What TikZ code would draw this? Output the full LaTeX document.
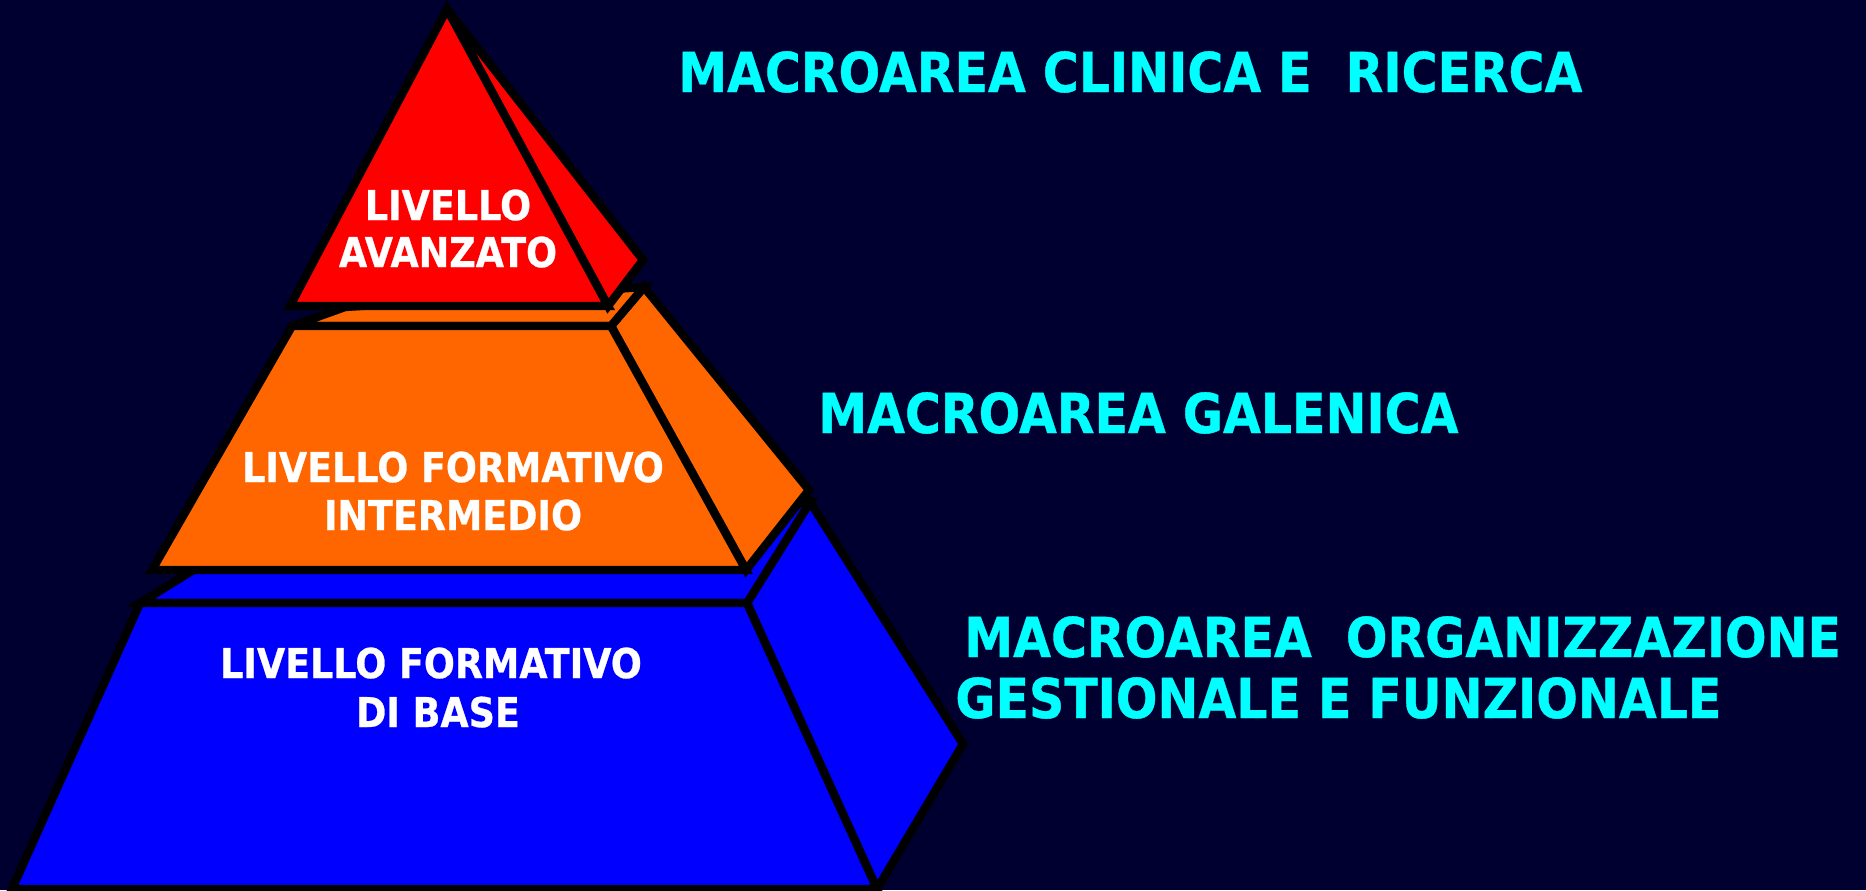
\documentclass[tikz,border=0pt]{standalone}
\usepackage{fontspec}
\setmainfont{DejaVu Sans}[FakeStretch=0.89,BoldFeatures={FakeBold=0.7}]
\definecolor{bgnavy}{HTML}{000030}
\definecolor{redf}{HTML}{FF0000}
\definecolor{orangef}{HTML}{FF6600}
\definecolor{bluef}{HTML}{0000FF}
\definecolor{cyant}{HTML}{00FFFF}
\begin{document}
\begin{tikzpicture}[x=0.5pt,y=-0.5pt,
  face/.style={draw=black,line width=4.2pt,line join=miter,miter limit=5},
  lvl/.style={text=white,font=\bfseries\fontsize{20.5}{24}\selectfont,anchor=base,inner sep=0pt},
  area/.style={text=cyant,font=\bfseries\fontsize{27.5}{33}\selectfont,anchor=base west,inner sep=0pt}]
\fill[bgnavy] (0,0) rectangle (1866,890);
\useasboundingbox (0,0) rectangle (1866,890);
% blue level
\coordinate (H) at (140,603);
\coordinate (I) at (747,603);
\coordinate (J) at (877,889);
\coordinate (K) at (12,889);
\coordinate (L) at (810,502);
\coordinate (N) at (963,744);
\coordinate (M) at (195,569);
\filldraw[face,fill=bluef] (I) -- (L) -- (N) -- (J) -- cycle;
\filldraw[face,fill=bluef] (H) -- (I) -- (L) -- (M) -- cycle;
\filldraw[face,fill=bluef] (H) -- (I) -- (J) -- (K) -- cycle;
% orange level
\coordinate (A) at (292,326);
\coordinate (B) at (611,326);
\coordinate (C) at (746,570);
\coordinate (D) at (152,570);
\coordinate (E) at (644,287);
\coordinate (F) at (809,490);
\coordinate (G) at (345,307);
\filldraw[face,fill=orangef] (B) -- (E) -- (F) -- (C) -- cycle;
\filldraw[face,fill=orangef] (A) -- (B) -- (E) -- (G) -- cycle;
\filldraw[face,fill=orangef] (A) -- (B) -- (C) -- (D) -- cycle;
% red level
\coordinate (P) at (447,9);
\coordinate (Q) at (290,306);
\coordinate (R) at (608,306);
\coordinate (S) at (643,260);
\filldraw[face,fill=redf] (P) -- (S) -- (R) -- cycle;
\filldraw[face,fill=redf] (P) -- (R) -- (Q) -- cycle;
% level labels
\node[lvl] (lv3a) at (448,220) {LIVELLO};
\node[lvl] (lv3b) at (448,267) {AVANZATO};
\node[lvl] (lv2a) at (453,482) {LIVELLO FORMATIVO};
\node[lvl] (lv2b) at (453,530) {INTERMEDIO};
\node[lvl] (lv1a) at (431,678) {LIVELLO FORMATIVO};
\node[lvl] (lv1b) at (438,727) {DI BASE};
% area labels
\node[area] (ar3) at (678,92) {MACROAREA CLINICA E\ \ RICERCA};
\node[area] (ar2) at (818,433) {MACROAREA GALENICA};
\node[area] (ar1a) at (964,657) {MACROAREA\ \ ORGANIZZAZIONE};
\node[area] (ar1b) at (955,718) {GESTIONALE E FUNZIONALE};
\end{tikzpicture}
\end{document}
